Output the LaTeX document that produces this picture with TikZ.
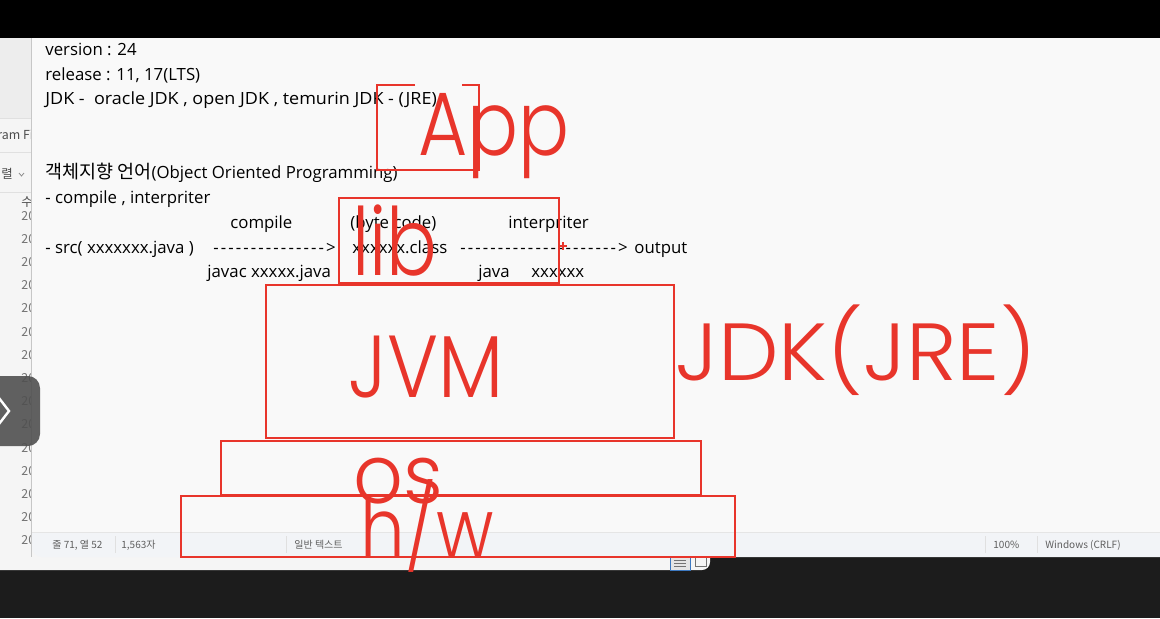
\documentclass[tikz,border=0pt]{standalone}
\usepackage{fontspec}
\setmainfont{Open Sans}
\newfontfamily\kofont{Noto Sans CJK KR}
\newfontfamily\penfont{Poppins Light}
\definecolor{penred}{HTML}{E8352B}
\definecolor{editorbg}{HTML}{F9F9F9}
\definecolor{statusbg}{HTML}{F2F4F7}
\definecolor{darkbg}{HTML}{1C1C1C}
\definecolor{backwin}{HTML}{F5F5F5}
\definecolor{greytext}{HTML}{5F5F5F}
\definecolor{btngrey}{HTML}{505050}
\definecolor{iconblue}{HTML}{3C78C0}
\newcommand\dashrun[1]{\foreach \i in {1,...,#1}{-\kern1.05pt}}

\begin{document}
\begin{tikzpicture}[x=0.5pt,y=-0.5pt,
  txt/.style={anchor=base west,inner sep=0pt,font=\fontsize{8.4}{10}\selectfont},
  bar/.style={anchor=base west,inner sep=0pt,font=\kofont\fontsize{5}{6}\selectfont,text=greytext},
  side/.style={anchor=base west,inner sep=0pt,font=\kofont\fontsize{6.2}{7}\selectfont,text=black!70},
  pen/.style={anchor=base west,inner sep=0pt,text=penred},
  penbox/.style={draw=penred,line width=1.3pt}]

  % screen
  \useasboundingbox (0,0) rectangle (1160,618);
  \fill[darkbg] (0,0) rectangle (1160,618);
  \fill[backwin,rounded corners=4pt] (-10,30) rectangle (710,570);

  % window behind the editor
  \begin{scope}
    \clip (0,38) rectangle (32,570);
    \fill[black!7] (0,38) rectangle (32,118);
    \draw[black!12] (0,118) -- (32,118) (0,152) -- (32,152) (0,192) -- (32,192);
    \node[side] (progfiles) at (-3,139) {ram Files};
    \node[side] (sortlbl) at (1,178) {렬};
    \draw[black!45,line width=0.4pt] (19,173) -- (21.5,176) -- (24,173);
    \node[side] (datecol) at (21,206) {수};
    \foreach \k in {0,...,14}
      \node[side,text=black!55] (yr\k) at (21,220+23.2*\k) {20};
  \end{scope}

  % editor window
  \fill[black!22] (30.5,38) rectangle (32,557);
  \fill[statusbg,rounded corners=5pt] (32,20) rectangle (1175,557);
  \fill[editorbg] (32,38) rectangle (1160,532);
  \fill[black] (0,0) rectangle (1160,38);
  \draw[black!10] (32,532) -- (1160,532);
  \foreach \sx in {115,286,985,1037}
    \draw[black!12] (\sx,536) -- (\sx,553);
  \node[bar] (cursor) at (52,548) {줄 71, 열 52};
  \node[bar] (chars) at (121,548) {1,563자};
  \node[bar] (mode) at (294,548) {일반 텍스트};
  \node[bar] (zoomlbl) at (993,548) {100\%};
  \node[bar] (eol) at (1045,548) {Windows (CRLF)};

  % taskbar icons
  \draw[iconblue,fill=black!10,line width=0.5pt] (670,557) rectangle (690,570);
  \draw[black!55,line width=0.5pt] (674,560.5) -- (686,560.5) (674,563.5) -- (686,563.5) (674,566.5) -- (686,566.5);
  \draw[black!55,line width=0.5pt] (695,557) rectangle (706,566);

  % side button
  \fill[btngrey,fill opacity=0.9,rounded corners=6pt] (-14,376) rectangle (40,446);
  \draw[white,line width=1.2pt] (-1,398) -- (9,411) -- (-1,424);

  % editor text
  \node[txt] (version) at (45,55.5) {version : 24};
  \node[txt] (release) at (45,80) {release : 11, 17(LTS)};
  \node[txt] (jdkline) at (45,104.5) {\scalebox{1.07}[1]{JDK -\ \ oracle JDK , open JDK , temurin JDK - (JRE)}};
  \node[txt] (oop) at (45,178.5) {{\kofont\scalebox{1.1}{객체지향 언어}}(Object Oriented Programming)};
  \node[txt] (kinds) at (45,203) {- compile , interpriter};
  \node[txt] (compilelbl) at (230,228) {compile};
  \node[txt] (bytecode) at (350,228) {(byte code)};
  \node[txt] (interplbl) at (508,228) {interpriter};
  \node[txt] (src) at (45,253) {- src( xxxxxxx.java )};
  \node[txt] (arrowa) at (213,253) {\dashrun{15}>};
  \node[txt] (classfile) at (352,253) {xxxxxx.class};
  \node[txt] (arrowb) at (460,253) {\dashrun{21}>};
  \node[txt] (output) at (634,253) {output};
  \node[txt] (javac) at (207,277) {javac xxxxx.java};
  \node[txt] (javacmd) at (478,277) {java};
  \node[txt] (javaarg) at (531,277) {xxxxxx};

  % pen boxes
  \draw[penbox] (415,85) -- (377,85) -- (377,170) -- (479,170) -- (479,85) -- (462,85);
  \draw[penbox] (339,198) rectangle (559,283);
  \draw[penbox] (266,285) rectangle (674,438);
  \draw[penbox] (221,441) rectangle (701,495);
  \draw[penbox] (181,496) rectangle (735,557);
  \draw[penred,line width=0.8pt] (559,246) -- (567,246) (563,242) -- (563,250);

  % pen labels
  \node[pen,font=\penfont\fontsize{45}{50}\selectfont] (app) at (418,155) {\scalebox{0.84}[1]{App}};
  \node[pen,font=\penfont\fontsize{47}{50}\selectfont] (lib) at (352,275) {\scalebox{0.8}[1]{lib}};
  \node[pen,font=\penfont\fontsize{44}{50}\selectfont] (jvm) at (348,397) {\scalebox{0.88}[1]{JVM}};
  \node[pen,font=\penfont\fontsize{40.5}{50}\selectfont] (jdk) at (675,380) {\scalebox{1.06}[1]{JDK(JRE)}};
  \node[pen,font=\penfont\fontsize{41}{50}\selectfont] (os) at (353,503) {\scalebox{0.95}[1]{os}};
  \node[pen,font=\penfont\fontsize{42}{50}\selectfont] (hw) at (360,558) {\scalebox{0.84}[1]{h/w}};
\end{tikzpicture}
\end{document}
